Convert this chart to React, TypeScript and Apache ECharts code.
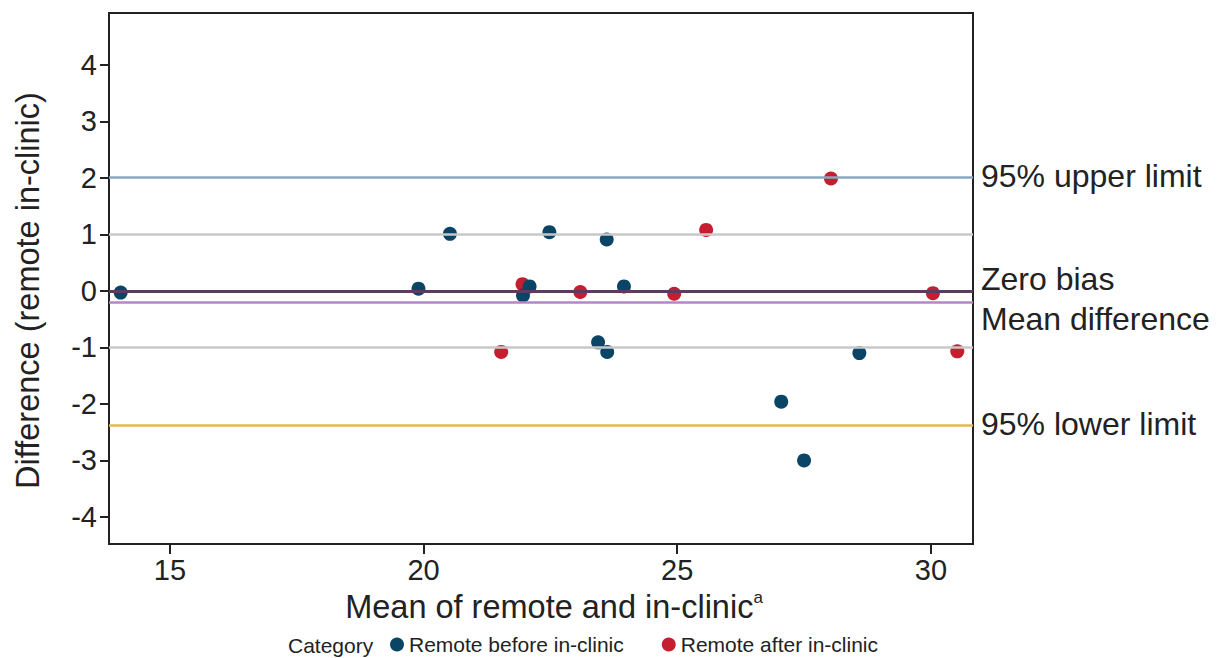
import React, { useEffect, useRef } from "react";
import * as echarts from "echarts";

// ---- data ----
const xTicks = [15, 20, 25, 30];
const yTicks = [-4, -3, -2, -1, 0, 1, 2, 3, 4];

const beforeX = [14.03, 19.9, 20.52, 22.48, 21.96, 22.09, 23.61, 23.95, 23.44, 23.62, 27.05, 27.5, 28.59];
const beforeY = [-0.03, 0.04, 1.01, 1.04, -0.08, 0.08, 0.91, 0.08, -0.91, -1.08, -1.96, -3.0, -1.1];

const afterX = [21.53, 21.95, 23.09, 24.94, 25.57, 28.03, 30.04, 30.52];
const afterY = [-1.08, 0.12, -0.02, -0.05, 1.08, 1.99, -0.04, -1.07];

const refLineLabels = ["95% upper limit", "Zero bias", "Mean difference", "95% lower limit"];
const refLineValues = [2.02, 0, -0.2, -2.38];
const gridLineValues = [1, -1];

const seriesNames = ["Remote before in-clinic", "Remote after in-clinic"];

// ---- styles ----
const FONT = "'Liberation Sans', Arial, Helvetica, sans-serif";
const INK = "#222222";
const refLineColors = ["#88a8c0", "#5e3a5f", "#b685c6", "#e6b84c"];
const refLineWidths = [2.5, 3, 2.5, 2.5];
const refLabelDy = [-1, -12, 16.5, -1.5];
const BLUE = "#0b4566";
const RED = "#c41e30";

const X_MIN = 13.8;
const X_MAX = 30.83;
const Y_MIN = -4.48;
const Y_MAX = 4.92;

export default function App() {
  const ref = useRef<HTMLDivElement | null>(null);

  useEffect(() => {
    if (!ref.current) return;
    const chart = echarts.init(ref.current, null, { renderer: "svg" });

    const markLineData = [
      ...gridLineValues.map((v) => ({
        yAxis: v,
        lineStyle: { color: "#c8c8c8", width: 2.5, type: "solid" as const },
      })),
      ...refLineValues.map((v, i) => ({
        yAxis: v,
        lineStyle: { color: refLineColors[i], width: refLineWidths[i], type: "solid" as const },
      })),
    ];

    const option: any = {
      animation: false,
      textStyle: { fontFamily: FONT },
      grid: {
        left: 109,
        right: 254,
        top: 13,
        bottom: 114,
        show: true,
        borderColor: INK,
        borderWidth: 2,
      },
      xAxis: {
        type: "value",
        min: X_MIN,
        max: X_MAX,
        name: "{t|Mean of remote and in-clinic}{s|a}",
        nameLocation: "middle",
        nameGap: 45,
        nameTextStyle: {
          padding: [0, 0, 0, 26],
          rich: {
            t: { fontSize: 32.5, color: INK, fontFamily: FONT, lineHeight: 36 },
            s: { fontSize: 17, color: INK, fontFamily: FONT, verticalAlign: "top", lineHeight: 16 },
          },
        },
        axisLine: { show: true, onZero: false, lineStyle: { color: INK, width: 2 } },
        axisTick: { show: true, customValues: xTicks, length: 10, lineStyle: { color: INK, width: 2 } },
        axisLabel: { customValues: xTicks, fontSize: 29, color: INK, margin: 11, fontFamily: FONT },
        splitLine: { show: false },
      },
      yAxis: {
        type: "value",
        min: Y_MIN,
        max: Y_MAX,
        axisLine: { show: true, onZero: false, lineStyle: { color: INK, width: 2 } },
        axisTick: { show: true, customValues: yTicks, length: 9, lineStyle: { color: INK, width: 2 } },
        axisLabel: { customValues: yTicks, fontSize: 29, color: INK, margin: 12, fontFamily: FONT },
        splitLine: { show: false },
      },
      legend: {
        data: seriesNames,
        left: 390,
        top: 634,
        padding: 0,
        icon: "circle",
        itemWidth: 14,
        itemHeight: 14,
        itemGap: 38,
        textStyle: { fontSize: 21, color: INK, fontFamily: FONT },
      },
      series: [
        {
          name: "refLines",
          type: "scatter",
          data: [],
          z: 1,
          silent: true,
          markLine: {
            silent: true,
            symbol: "none",
            label: { show: false },
            data: markLineData,
          },
        },
        {
          name: seriesNames[1],
          type: "scatter",
          symbol: "circle",
          symbolSize: 14,
          z: 3,
          itemStyle: { color: RED, opacity: 1 },
          data: afterX.map((x, i) => [x, afterY[i]]),
        },
        {
          name: seriesNames[0],
          type: "scatter",
          symbol: "circle",
          symbolSize: 14,
          z: 4,
          itemStyle: { color: BLUE, opacity: 1 },
          data: beforeX.map((x, i) => [x, beforeY[i]]),
        },
      ],
    };

    chart.setOption(option);

    const rightX = (chart.convertToPixel({ xAxisIndex: 0 }, X_MAX) as number) + 8;
    const midY =
      ((chart.convertToPixel({ yAxisIndex: 0 }, Y_MIN) as number) +
        (chart.convertToPixel({ yAxisIndex: 0 }, Y_MAX) as number)) /
      2;

    const graphics: any[] = refLineLabels.map((label, i) => ({
      type: "text",
      x: rightX,
      y: (chart.convertToPixel({ yAxisIndex: 0 }, refLineValues[i]) as number) + refLabelDy[i],
      style: {
        text: label,
        fill: INK,
        font: `32px ${FONT}`,
        align: "left",
        verticalAlign: "middle",
      },
      silent: true,
    }));

    graphics.push({
      type: "text",
      x: 28,
      y: midY + 12,
      rotation: Math.PI / 2,
      style: {
        text: "Difference (remote in-clinic)",
        fill: INK,
        font: `32.5px ${FONT}`,
        align: "center",
        verticalAlign: "middle",
      },
      silent: true,
    });

    graphics.push({
      type: "text",
      x: 288,
      y: 645,
      style: {
        text: "Category",
        fill: INK,
        font: `21px ${FONT}`,
        align: "left",
        verticalAlign: "middle",
      },
      silent: true,
    });

    chart.setOption({ graphic: graphics });

    return () => {
      chart.dispose();
    };
  }, []);

  return (
    <div
      ref={ref}
      style={{ position: "fixed", left: 0, top: 0, width: 1227, height: 658, background: "#ffffff" }}
    />
  );
}
